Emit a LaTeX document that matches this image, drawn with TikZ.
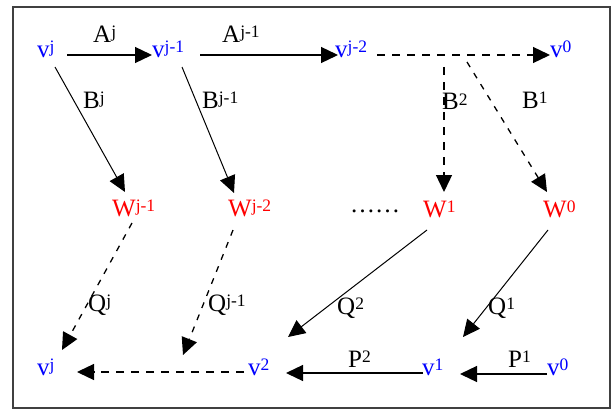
\documentclass[tikz,border=0pt]{standalone}
\usepackage{fontspec}
\setmainfont{Liberation Serif}
\usetikzlibrary{arrows.meta}
\newcommand\supx[1]{\raisebox{5pt}{\fontsize{17.5}{18}\selectfont #1}}
\begin{document}
\begin{tikzpicture}[x=1pt,y=-1pt,
  lbl/.style={inner sep=0pt, anchor=base west, font=\fontsize{25}{28}\selectfont},
  vn/.style={lbl, text=blue},
  wn/.style={lbl, text=red},
  arr/.style={line width=1.3pt, -{Triangle[length=17pt,width=16pt]}},
  sarr/.style={arr, line width=1pt},
  dsh/.style={dash pattern=on 8pt off 7pt},
  dshd/.style={dash pattern=on 6pt off 7pt}]
\useasboundingbox (0,0) rectangle (613,412);
\draw[line width=1.8pt, black!75] (13,7) rectangle (610,408);

% top row
\node[vn] (vjT) at (37,58) {v\supx{j}};
\node[vn] (vj1) at (152,58) {v\supx{j-1}};
\node[vn] (vj2) at (335,58) {v\supx{j-2}};
\node[vn] (v0T) at (550,58) {v\supx{0}};
% middle row
\node[wn] (Wj1) at (112,216) {W\supx{j-1}};
\node[wn] (Wj2) at (228,216) {W\supx{j-2}};
\node[lbl] (dots) at (350,212) {……};
\node[wn] (W1) at (423,217) {W\supx{1}};
\node[wn] (W0) at (543,217) {W\supx{0}};
% bottom row
\node[vn] (vjB) at (37,375) {v\supx{j}};
\node[vn] (v2) at (248,375) {v\supx{2}};
\node[vn] (v1) at (422,375) {v\supx{1}};
\node[vn] (v0B) at (547,375) {v\supx{0}};

% free ends
\coordinate (qj1end) at (183,355);
\coordinate (q2end) at (288,337);
\coordinate (q1end) at (463,337);

% labels
\node[lbl] (lAj) at (93,43) {A\supx{j}};
\node[lbl] (lAj1) at (222,43) {A\supx{j-1}};
\node[lbl] (lBj) at (83,108) {B\supx{j}};
\node[lbl] (lBj1) at (202,108) {B\supx{j-1}};
\node[lbl] (lB2) at (442,110) {B\supx{2}};
\node[lbl] (lB1) at (522,108) {B\supx{1}};
\node[lbl] (lQj) at (88,311) {Q\supx{j}};
\node[lbl] (lQj1) at (208,311) {Q\supx{j-1}};
\node[lbl] (lQ2) at (337,314) {Q\supx{2}};
\node[lbl] (lQ1) at (488,314) {Q\supx{1}};
\node[lbl] (lP2) at (348,367) {P\supx{2}};
\node[lbl] (lP1) at (508,367) {P\supx{1}};

% top horizontal arrows
\draw[arr] ([shift={(30,-3)}]vjT.base west) -- ([shift={(0,-3)}]vj1.base west);
\draw[arr] ([shift={(48,-3)}]vj1.base west) -- ([shift={(3,-3)}]vj2.base west);
\draw[arr,dsh] ([shift={(42,-3)}]vj2.base west) -- ([shift={(0,-3)}]v0T.base west);
% B arrows
\draw[sarr] ([shift={(18,9)}]vjT.base west) -- ([shift={(13,-24)}]Wj1.base west);
\draw[sarr] ([shift={(30,9)}]vj1.base west) -- ([shift={(6,-23)}]Wj2.base west);
\draw[arr,dsh] ([shift={(109,9)}]vj2.base west) -- ([shift={(21,-25)}]W1.base west);
\draw[arr,dshd] ([shift={(132,4)}]vj2.base west) -- ([shift={(4,-25)}]W0.base west);
% Q arrows
\draw[arr,dshd] ([shift={(20,7)}]Wj1.base west) -- ([shift={(25,-25)}]vjB.base west);
\draw[arr,dshd] ([shift={(5,14)}]Wj2.base west) -- (qj1end);
\draw[sarr] ([shift={(4,13)}]W1.base west) -- (q2end);
\draw[sarr] ([shift={(5,13)}]W0.base west) -- (q1end);
% bottom horizontal arrows
\draw[arr,dsh] ([shift={(-4,-3)}]v2.base west) -- ([shift={(40,-3)}]vjB.base west);
\draw[arr] ([shift={(1,-2)}]v1.base west) -- ([shift={(38,-2)}]v2.base west);
\draw[arr] ([shift={(0,-1)}]v0B.base west) -- ([shift={(38,-1)}]v1.base west);
\end{tikzpicture}
\end{document}
